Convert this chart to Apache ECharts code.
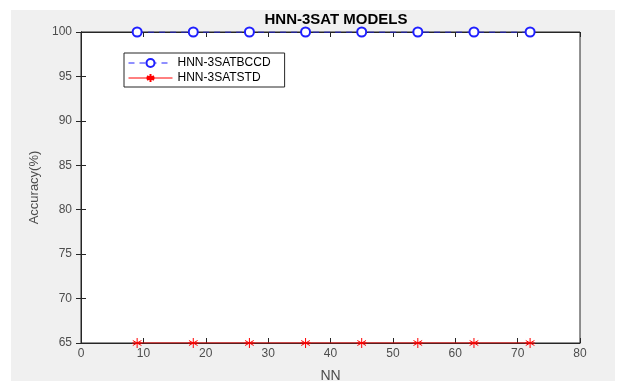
<!DOCTYPE html>
<html>
<head>
<meta charset="utf-8">
<script src="https://cdn.jsdelivr.net/npm/echarts@6/dist/echarts.min.js"></script>
<style>
  html, body { margin: 0; padding: 0; background: #fff; }
  #panel { position: absolute; left: 11px; top: 10px; width: 604px; height: 371px; background: #f0f0f0; }
  #chart { position: absolute; left: 0; top: 0; width: 618px; height: 381px; }
</style>
</head>
<body>
<div id="panel"></div>
<div id="chart"></div>
<script>
// NN values on the x axis
const nnValues = [9, 18, 27, 36, 45, 54, 63, 72];
// accuracy (%) per model
const bccdAccuracy = [100, 100, 100, 100, 100, 100, 100, 100];
const stdAccuracy = [65, 65, 65, 65, 65, 65, 65, 65];
const seriesNames = ['HNN-3SATBCCD', 'HNN-3SATSTD'];

const toPairs = (xs, ys) => xs.map((x, i) => [x, ys[i]]);

// asterisk drawn as strokes
const starPath = 'path://M0,-5L0,5M-4.33,-2.5L4.33,2.5M-4.33,2.5L4.33,-2.5M-5,0L5,0';

const axisColor = '#262626';
const labelColor = '#4d4d4d';
const font = 'Liberation Sans, Arial, sans-serif';

const chart = echarts.init(document.getElementById('chart'));
chart.setOption({
  animation: false,
  backgroundColor: 'transparent',
  title: {
    text: 'HNN-3SAT MODELS',
    left: 331,
    textAlign: 'center',
    top: 7,
    textStyle: { fontFamily: font, fontSize: 15, fontWeight: 'bold', color: '#000' }
  },
  legend: {
    orient: 'vertical',
    left: 124,
    top: 53,
    padding: [4, 14, 3, 4],
    itemGap: 3,
    itemWidth: 44,
    itemHeight: 10,
    backgroundColor: '#fff',
    borderColor: '#262626',
    borderWidth: 1,
    borderRadius: 0,
    lineStyle: { width: 1 },
    textStyle: { fontFamily: font, fontSize: 12, color: '#000' },
    data: seriesNames
  },
  grid: {
    left: 81, right: 38, top: 32, bottom: 38,
    outerBoundsMode: 'none',
    show: true,
    backgroundColor: '#fff',
    borderColor: axisColor,
    borderWidth: 1
  },
  xAxis: [{
    type: 'value',
    min: 0, max: 80, interval: 10,
    name: 'NN',
    nameLocation: 'middle',
    nameGap: 26,
    nameTextStyle: { fontFamily: font, fontSize: 14, color: labelColor },
    axisLine: { lineStyle: { color: axisColor } },
    axisTick: { inside: true, length: 5, lineStyle: { color: axisColor } },
    axisLabel: { fontFamily: font, fontSize: 12, color: labelColor, margin: 5 },
    splitLine: { show: false }
  }, {
    type: 'value',
    position: 'top',
    min: 0, max: 80, interval: 10,
    axisLine: { show: true, lineStyle: { color: axisColor } },
    axisTick: { inside: true, length: 5, lineStyle: { color: axisColor } },
    axisLabel: { show: false },
    splitLine: { show: false }
  }],
  yAxis: [{
    type: 'value',
    min: 65, max: 100, interval: 5,
    name: 'Accuracy(%)',
    nameLocation: 'middle',
    nameGap: 40,
    nameTextStyle: { fontFamily: font, fontSize: 13, color: labelColor },
    axisLine: { show: true, lineStyle: { color: axisColor } },
    axisTick: { show: true, inside: true, length: 5, lineStyle: { color: axisColor } },
    axisLabel: { fontFamily: font, fontSize: 12, color: labelColor, margin: 9 },
    splitLine: { show: false }
  }, {
    type: 'value',
    position: 'right',
    min: 65, max: 100, interval: 5,
    axisLine: { show: true, lineStyle: { color: axisColor } },
    axisTick: { show: true, inside: true, length: 5, lineStyle: { color: axisColor } },
    axisLabel: { show: false },
    splitLine: { show: false }
  }],
  series: [{
    name: seriesNames[0],
    type: 'line',
    data: toPairs(nnValues, bccdAccuracy),
    symbol: 'emptyCircle',
    symbolSize: 9,
    lineStyle: { color: '#2020ff', width: 1, type: [6, 5] },
    itemStyle: { color: '#2020ff', borderColor: '#2020ff', borderWidth: 1 },
    z: 5
  }, {
    name: seriesNames[1],
    type: 'line',
    data: toPairs(nnValues, stdAccuracy),
    symbol: starPath,
    symbolSize: 10,
    lineStyle: { color: '#ff0000', width: 1 },
    itemStyle: { color: '#ff0000', borderColor: '#ff0000', borderWidth: 1 },
    z: 5
  }]
});
</script>
</body>
</html>
